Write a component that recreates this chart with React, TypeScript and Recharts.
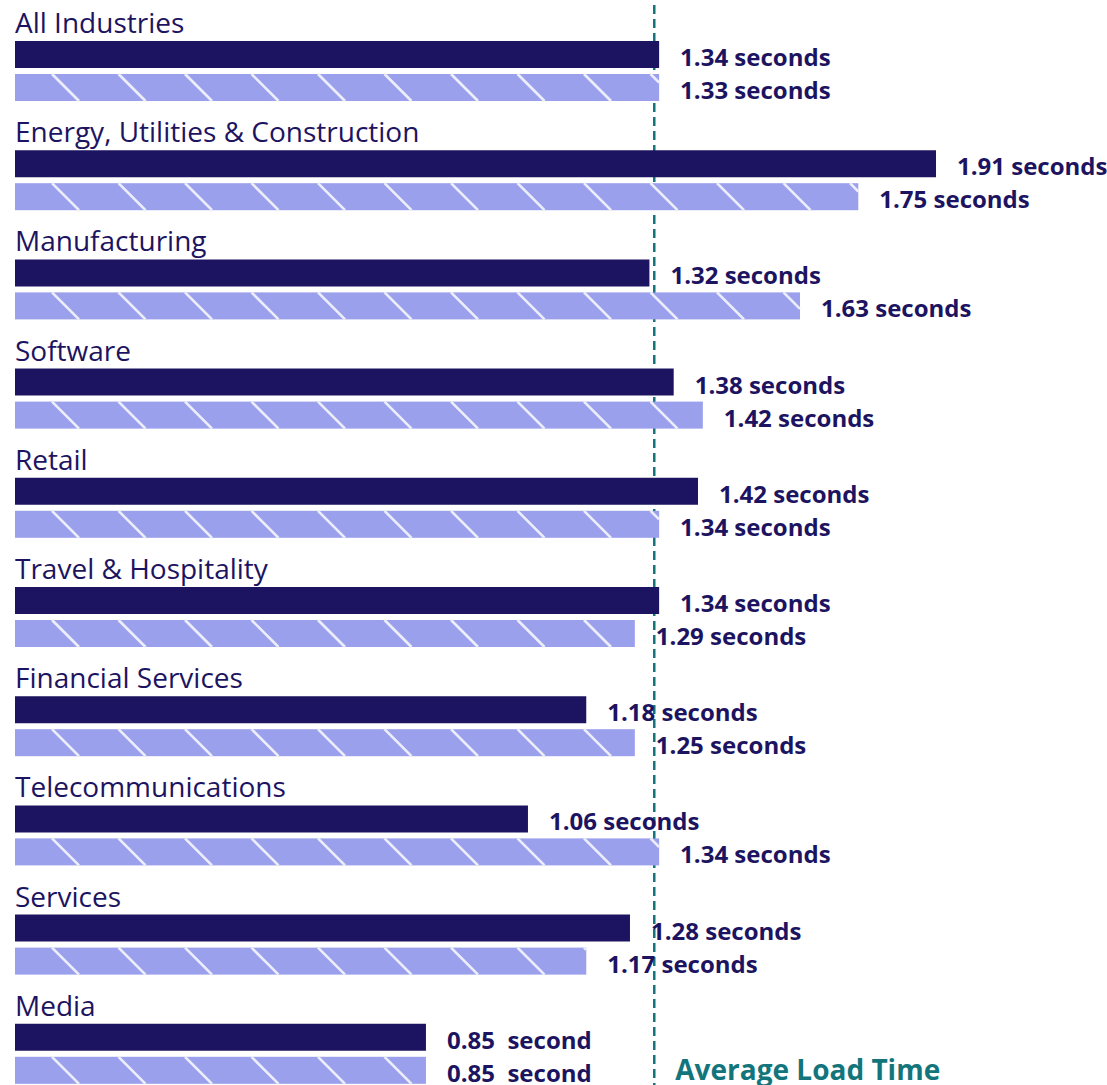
import React from 'react';
import { BarChart, Bar, XAxis, YAxis, ReferenceLine, LabelList } from 'recharts';

const DARK = '#1d1461';
const LIGHT = '#9ba0ec';
const STRIPE = '#eceefc';
const TEAL = '#13757c';
const FONT = '"Open Sans", sans-serif';

const industries = [
  'All Industries',
  'Energy, Utilities & Construction',
  'Manufacturing',
  'Software',
  'Retail',
  'Travel & Hospitality',
  'Financial Services',
  'Telecommunications',
  'Services',
  'Media',
];
// bar lengths
const solidValues = [1.34, 1.91, 1.32, 1.37, 1.42, 1.34, 1.19, 1.07, 1.28, 0.86];
const stripedValues = [1.34, 1.75, 1.63, 1.43, 1.34, 1.29, 1.29, 1.34, 1.19, 0.86];
const solidLabels = [
  '1.34 seconds', '1.91 seconds', '1.32 seconds', '1.38 seconds', '1.42 seconds',
  '1.34 seconds', '1.18 seconds', '1.06 seconds', '1.28 seconds', '0.85  second',
];
const stripedLabels = [
  '1.33 seconds', '1.75 seconds', '1.63 seconds', '1.42 seconds', '1.34 seconds',
  '1.29 seconds', '1.25 seconds', '1.34 seconds', '1.17 seconds', '0.85  second',
];
const averageLoadTime = 1.33;

const data = industries.map((name, i) => ({
  name,
  spacer: 0,
  solid: solidValues[i],
  striped: stripedValues[i],
  solidLabel: solidLabels[i],
  stripedLabel: stripedLabels[i],
}));

// light bar with white "\" stripes
function StripedBar(props: any) {
  const { x, y, width, height } = props;
  if (!width || width <= 0) return null;
  const step = 66.5;
  const lines = [];
  for (let sx = x + 37 - step; sx < x + width; sx += step) {
    const t0 = Math.max(0, x - sx);
    const t1 = Math.min(height, x + width - sx);
    if (t0 < t1) {
      lines.push(
        <line key={sx} x1={sx + t0} y1={y + t0} x2={sx + t1} y2={y + t1} stroke={STRIPE} strokeWidth={2.6} />
      );
    }
  }
  return (
    <g>
      <rect x={x} y={y} width={width} height={height} fill={LIGHT} />
      {lines}
    </g>
  );
}

function ValueLabel(props: any) {
  const { x, y, width, height, value } = props;
  return (
    <text
      x={x + width + 21}
      y={y + height / 2 + 2}
      dominantBaseline="central"
      fill={DARK}
      fontFamily={FONT}
      fontWeight={700}
      fontSize={24}
      style={{ whiteSpace: 'pre' }}
    >
      {value}
    </text>
  );
}

// industry name sits just above the dark bar
function CategoryLabel(props: any) {
  const { x, y, value } = props;
  return (
    <text x={x} y={y - 8} textAnchor="start" fill={DARK} fontFamily={FONT} fontSize={28}>
      {value}
    </text>
  );
}

function AverageLabel(props: any) {
  const { viewBox } = props;
  return (
    <text
      x={viewBox.x + 21}
      y={viewBox.y + viewBox.height - 12}
      fill={TEAL}
      fontFamily={FONT}
      fontWeight={700}
      fontSize={28}
    >
      Average Load Time
    </text>
  );
}

export default function App() {
  return (
    <div
      style={{
        position: 'fixed',
        left: 0,
        top: 0,
        width: 1107,
        height: 1085,
        overflow: 'hidden',
        background: '#fff',
      }}
    >
      <BarChart
        width={1107}
        height={1092}
        data={data}
        layout="vertical"
        margin={{ top: 0, right: 0, bottom: 0, left: 15 }}
        barGap={6}
      >
        <XAxis type="number" domain={[0.014, 2.262]} allowDataOverflow hide />
        <YAxis type="category" dataKey="name" hide />
        <ReferenceLine
          x={averageLoadTime}
          stroke={TEAL}
          strokeWidth={2.5}
          strokeDasharray="9 5"
          label={AverageLabel}
          zIndex={100}
        />
        <Bar dataKey="spacer" barSize={27} fill="none" isAnimationActive={false} />
        <Bar dataKey="solid" barSize={27} fill={DARK} isAnimationActive={false}>
          <LabelList dataKey="name" content={CategoryLabel} />
          <LabelList dataKey="solidLabel" content={ValueLabel} />
        </Bar>
        <Bar dataKey="striped" barSize={27} shape={StripedBar} isAnimationActive={false}>
          <LabelList dataKey="stripedLabel" content={ValueLabel} />
        </Bar>
      </BarChart>
    </div>
  );
}
